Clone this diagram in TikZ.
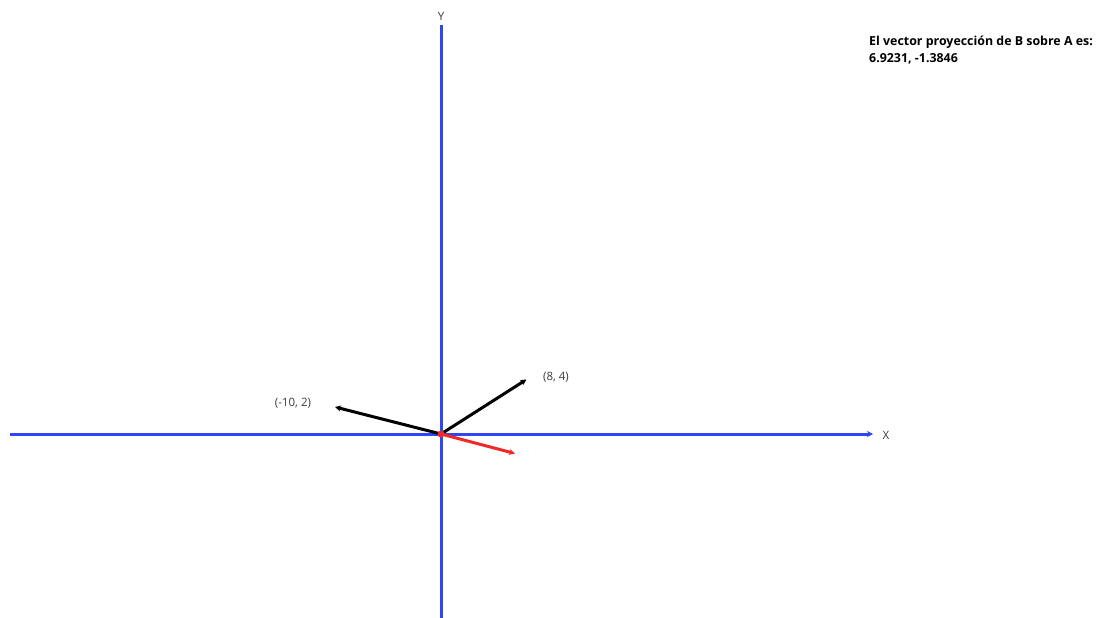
\documentclass[tikz,border=0pt]{standalone}
\usepackage{fontspec}
\setmainfont{Open Sans}
\usetikzlibrary{arrows.meta}
\definecolor{axisblue}{RGB}{45,70,250}
\definecolor{vecred}{RGB}{240,40,40}
\definecolor{labgray}{RGB}{60,60,60}
\begin{document}
\begin{tikzpicture}[x=1pt,y=-1pt,
  axis/.style={axisblue,line width=3pt},
  vec/.style={line width=3pt,-{Stealth[length=6pt,width=6pt]}},
  lab/.style={font=\fontsize{11.5}{13}\selectfont,text=labgray,inner sep=0pt}]
\useasboundingbox (0,0) rectangle (1100,618);
\coordinate (O) at (441,434);
\coordinate (xl) at (10,434);
\coordinate (xr) at (873,434);
\coordinate (yt) at (441,25);
\coordinate (yb) at (441,618);
\coordinate (A) at (526.5,379.5);
\coordinate (B) at (335,407);
\coordinate (P) at (515,453.5);
\draw[axis,-{Stealth[length=6pt,width=6pt]}] (xl) -- (xr);
\draw[axis] (yb) -- (yt);
\node[lab] (xlab) at (886,435) {X};
\node[lab] (ylab) at (441,16) {Y};
\draw[vec] (O) -- (A);
\draw[vec] (O) -- (B);
\draw[vec,vecred] (O) -- (P);
\fill[vecred] (O) circle (3.5pt);
\node[lab] (la) at (556,377) {(8, 4)};
\node[lab] (lb) at (293,403) {(-10, 2)};
\node[font=\fontsize{12.4}{17}\selectfont\bfseries,anchor=north west,align=left,inner sep=0pt] (res) at (869,35.5) {El vector proyección de B sobre A es:\\6.9231, -1.3846};
\end{tikzpicture}
\end{document}
